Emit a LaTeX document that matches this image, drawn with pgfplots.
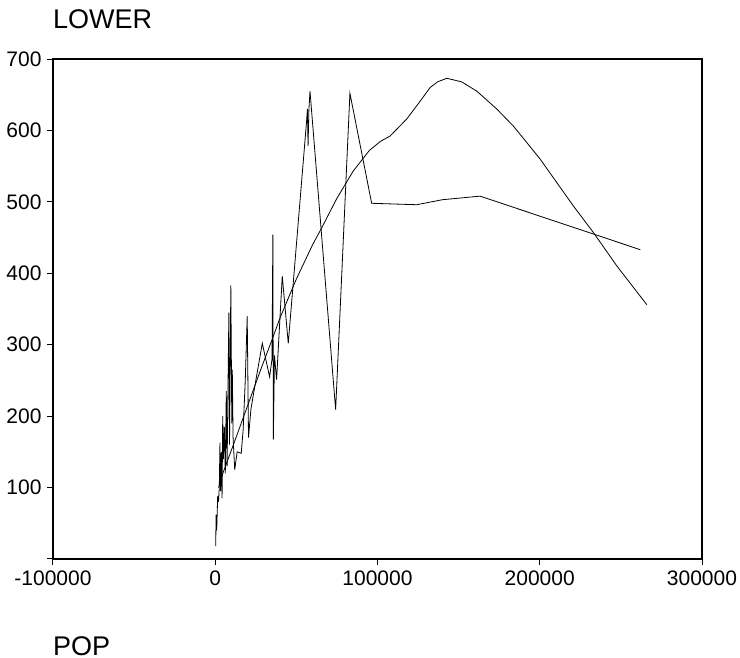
\documentclass[border=0pt]{standalone}
\usepackage{pgfplots}
\pgfplotsset{compat=1.18}
\usepackage{fontspec}
\setmainfont{Liberation Sans}
\begin{document}
\begin{tikzpicture}
\useasboundingbox (0,0) rectangle (740bp,658bp);
\begin{axis}[
  at={(53bp,99bp)}, anchor=south west,
  scale only axis, width=649bp, height=500bp,
  xmin=-100000, xmax=300000, ymin=0, ymax=700,
  xtick={-100000,0,100000,200000,300000},
  xticklabels={-100000,0,100000,200000,300000},
  ytick={0,100,200,300,400,500,600,700},
  yticklabels={,100,200,300,400,500,600,700},
  scaled x ticks=false, scaled y ticks=false,
  tick align=outside, major tick length=6bp,
  xtick pos=bottom, ytick pos=left,
  tick label style={font=\fontsize{21bp}{21bp}\selectfont},
  /pgf/number format/assume math mode=true,
  axis line style={line width=1.1bp, black},
  tick style={line width=1bp, black},
  xticklabel style={yshift=-2bp},
  yticklabel style={xshift=-2bp},
  clip=true,
]
\addplot[black, line width=0.8bp] coordinates {
(300,18) (500,62) (900,40) (1500,88) (2000,80) (2500,100) (2900,163) (3300,95)
(3800,150) (4200,85) (4600,200) (5000,140) (5600,185) (6200,120) (6800,235)
(7300,130) (7800,230) (8400,345) (8800,160) (9600,383) (10200,190) (10500,265)
(11000,170) (12000,125) (13500,150) (16000,148) (17200,181) (18500,250)
(19700,340) (20500,170) (22000,210) (25000,250) (29000,302) (33500,255)
(35000,280) (35500,454) (35800,167) (36500,285) (37800,251) (41300,396)
(45000,302) (56300,613) (56800,630) (57200,578) (57700,628) (58400,655)
(74200,209) (83000,652) (96400,498) (110000,497) (124200,496) (140000,503)
(163200,508) (262000,433)
};
\addplot[black, line width=0.8bp] coordinates {
(2000,100) (5000,122) (12000,165) (20000,215) (28000,265) (35000,307)
(40000,338) (50000,392) (60000,440) (65000,461) (75000,505) (85000,543)
(95000,572) (102000,585) (107700,592) (118000,616) (126000,640) (132400,660)
(137000,668) (142700,673) (151900,668) (161200,655) (173500,630) (183800,606)
(200200,560) (220800,494) (233100,457) (247600,410) (266000,356)
};
\end{axis}
\node[anchor=base west, inner sep=0pt, font=\fontsize{27bp}{27bp}\selectfont] at (53bp,629.7bp) {LOWER};
\node[anchor=base west, inner sep=0pt, font=\fontsize{27bp}{27bp}\selectfont] at (53bp,3bp) {POP};
\end{tikzpicture}
\end{document}
